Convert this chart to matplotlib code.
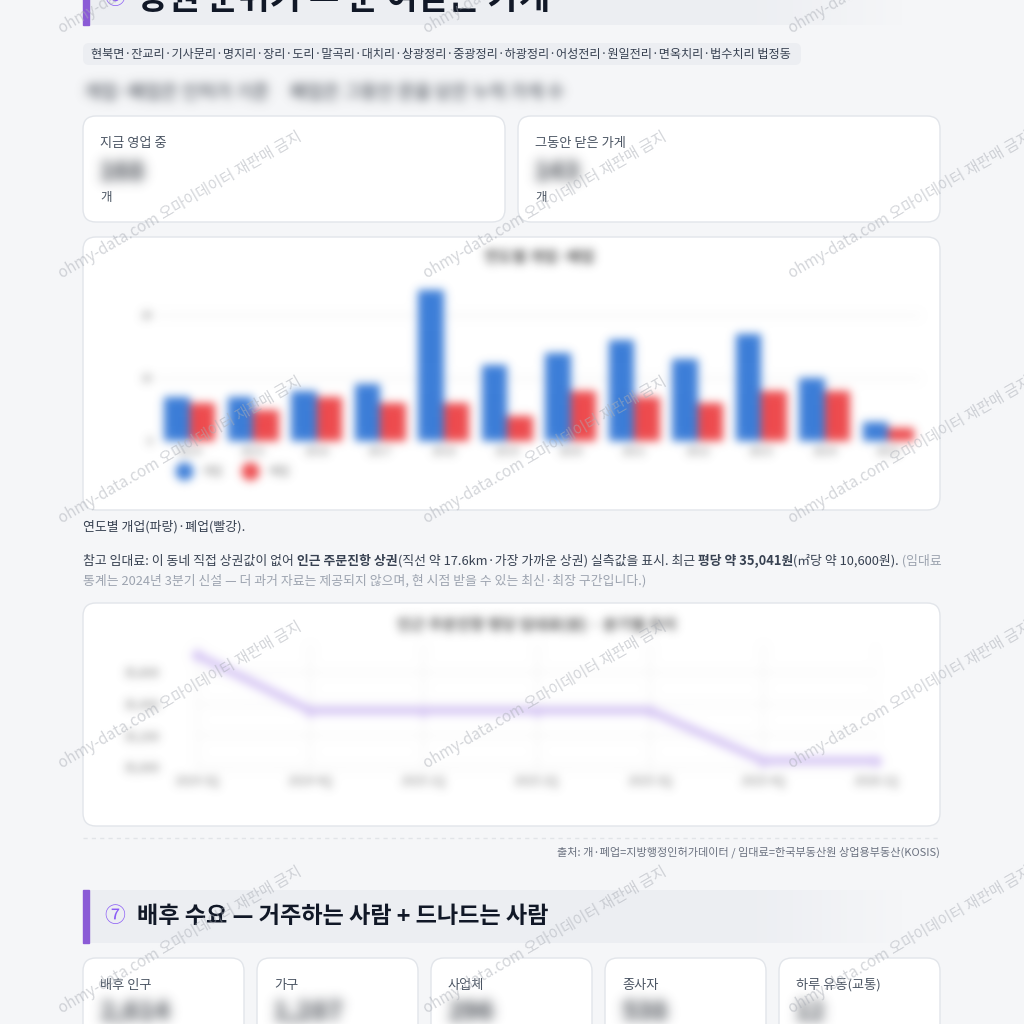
import numpy as np
import matplotlib
matplotlib.use("Agg")
import matplotlib.pyplot as plt
from matplotlib.patches import FancyBboxPatch, Rectangle
from matplotlib.lines import Line2D
from matplotlib.colors import to_rgb

plt.rcParams['font.family'] = ['Noto Sans CJK KR', 'DejaVu Sans']

# ---- data ----
years = ['2014', '2015', '2016', '2017', '2018', '2019',
         '2020', '2021', '2022', '2023', '2024', '2025']
opened = [7, 7, 8, 9, 24, 12, 14, 16, 13, 17, 10, 3]
closed = [6, 5, 7, 6, 6, 4, 8, 7, 6, 8, 8, 2]

quarters = ['2024 3Q', '2024 4Q', '2025 1Q', '2025 2Q', '2025 3Q', '2025 4Q', '2026 1Q']
rent = [35706, 35356, 35356, 35356, 35356, 35041, 35041]
rent_ticks = [35000, 35200, 35400, 35600]

dongs = ['현북면', '잔교리', '기사문리', '명지리', '장리', '도리', '말곡리', '대치리',
         '상광정리', '중광정리', '하광정리', '어성전리', '원일전리', '면옥치리', '법수치리']
store_labels = ['지금 영업 중', '그동안 닫은 가게']
store_counts = ['168', '143']
demand_labels = ['배후 인구', '가구', '사업체', '종사자', '하루 유동(교통)']
demand_values = ['2,614', '1,287', '296', '538', '12']

BG = '#f5f6f8'
BLUE = '#3b7dd8'
RED = '#ee4a4d'
PURPLE = '#8b5bd6'

W = H = 1024
fig = plt.figure(figsize=(10.24, 10.24), dpi=100)
fig.patch.set_facecolor(BG)
r = fig.canvas.get_renderer()

page = fig.add_axes([0, 0, 1, 1])
page.set_xlim(0, W)
page.set_ylim(H, 0)
page.set_autoscale_on(False)
page.axis('off')


def rect(x, y, w, h):
    return [x / W, 1 - (y + h) / H, w / W, h / H]


def blur(sigma):
    def filt(im, dpi):
        pad = int(3 * sigma) + 1
        a = np.pad(im, ((pad, pad), (pad, pad), (0, 0)))
        a[..., :3] *= a[..., 3:]
        k = np.exp(-0.5 * (np.arange(-pad, pad + 1) / sigma) ** 2)
        k /= k.sum()
        for axis in (0, 1):
            a = sum(w * np.roll(a, s, axis=axis) for s, w in zip(range(-pad, pad + 1), k))
        alpha = a[..., 3:]
        a[..., :3] = np.where(alpha > 1e-3, a[..., :3] / np.maximum(alpha, 1e-3), 0)
        return np.clip(a, 0, 1), -pad, -pad
    return filt


def card(x, y, w, h):
    page.add_patch(FancyBboxPatch((x, y), w, h, boxstyle='round,pad=0,rounding_size=13',
                                  fc='white', ec='#e2e5ea', lw=1, zorder=1))


def fit(t, width):
    w = t.get_window_extent(r).width
    t.set_fontsize(t.get_fontsize() * width / w)


def runs(x, y, parts, size):
    for s, weight, color in parts:
        t = page.text(x, y, s, fontsize=size, fontweight=weight, color=color, va='center', zorder=3)
        x += t.get_window_extent(r).width
    return x


def header(y0, y1, num, title):
    grad = np.ones((1, 256, 4))
    grad[..., :3] = to_rgb('#eceef2')
    grad[..., 3] = np.clip((1 - np.linspace(0, 1, 256)) / 0.2, 0, 1)
    page.imshow(grad, extent=[83, 905, y1, y0], aspect='auto', zorder=1)
    page.add_patch(Rectangle((83, y0), 6, y1 - y0, color=PURPLE, zorder=2))
    yc = (y0 + y1) / 2
    page.text(104, yc, num, fontsize=15, color='#8b5cf6', va='center', zorder=3)
    t = page.text(137, yc, title, fontsize=17, fontweight='bold', color='#111827',
                  va='center', zorder=3)
    fit(t, 413)


# ---- section 6 header (cut at top) ----
header(-28, 25, '⑥', '상권 분위기 — 문 여닫는 가게')

# chip with dong names
page.add_patch(FancyBboxPatch((83, 43), 718, 22, boxstyle='round,pad=0,rounding_size=6',
                              fc='#eceef2', ec='none', zorder=1))
chip = page.text(91, 54.5, '·'.join(dongs) + ' 법정동', fontsize=9, color='#374151',
                 va='center', zorder=3)
fit(chip, 702)

# blurred subtitle line
sub = page.text(84, 93, '개업·폐업은 인허가 기준     폐업은 그동안 문을 닫은 누적 가게 수',
                fontsize=12, fontweight='bold', color='#6b7078', va='center', zorder=3)
fit(sub, 482)
sub.set_agg_filter(blur(5))

# two stat cards
for i, (lab, cnt) in enumerate(zip(store_labels, store_counts)):
    x0 = 83 + i * 435
    card(x0, 116, 422, 106)
    page.text(x0 + 17, 143, lab, fontsize=9.5, color='#4b5563', va='center', zorder=3)
    v = page.text(x0 + 16, 172, cnt, fontsize=19, fontweight='bold', color='#3a3f47',
                  va='center', zorder=3)
    v.set_agg_filter(blur(6))
    page.text(x0 + 17, 198, '개', fontsize=9, color='#4b5563', va='center', zorder=3)

# ---- bar chart card ----
card(83, 237, 857, 273)
top = 441 - 24.5 * 6.3
ax1 = fig.add_axes(rect(158, top, 762, 441 - top))
ax1.set_facecolor('none')
x = np.arange(len(years))
ax1.bar(x - 0.2, opened, 0.4, color=BLUE, zorder=2)
ax1.bar(x + 0.2, closed, 0.4, color=RED, zorder=2)
ax1.set_xlim(-0.5, len(years) - 0.5)
ax1.set_ylim(0, 24.5)
ax1.set_yticks([0, 10, 20])
ax1.set_xticks(x, years)
ax1.grid(axis='y', color='#ececec', lw=1, zorder=0)
for s in ax1.spines.values():
    s.set_visible(False)
ax1.tick_params(length=0, labelsize=8, labelcolor='#777777', pad=4)
ax1.text(0.5, (441 - 257) / (441 - top), '연도별 개업·폐업', transform=ax1.transAxes,
         ha='center', va='center', fontsize=11, fontweight='bold', color='#555555')
ax1.legend(handles=[Line2D([], [], marker='o', ls='', color=BLUE, markersize=12, label='개업'),
                    Line2D([], [], marker='o', ls='', color=RED, markersize=12, label='폐업')],
           loc='center left', bbox_to_anchor=(172, 472), bbox_transform=page.transData,
           ncol=2, frameon=False, fontsize=8.5, labelcolor='#777777', handletextpad=1.0,
           columnspacing=1.8, borderpad=0, handlelength=1)
ax1.set_agg_filter(blur(4.5))

page.text(83, 527, '연도별 개업(파랑)·폐업(빨강).', fontsize=9.3, color='#374151',
          va='center', zorder=3)

# ---- rent paragraph ----
DARK = '#374151'
LIGHT = '#9ca3af'
line1 = [('참고 임대료: 이 동네 직접 상권값이 없어', 'normal', DARK),
         (' 인근 주문진항 상권', 'bold', DARK),
         ('(직선 약 17.6km·가장 가까운 상권) 실측값을 표시. 최근', 'normal', DARK),
         (' 평당 약 35,041원', 'bold', DARK),
         ('(㎡당 약 10,600원).', 'normal', DARK),
         (' (임대료', 'normal', LIGHT)]
probe = page.text(0, 0, ''.join(p[0] for p in line1), fontsize=9.3)
size = 9.3 * 854 / probe.get_window_extent(r).width
probe.remove()
runs(83, 561, line1, size)
runs(83, 581, [('통계는 2024년 3분기 신설 — 더 과거 자료는 제공되지 않으며, 현 시점 받을 수 있는 '
                '최신·최장 구간입니다.)', 'normal', LIGHT)], size)

# ---- rent line chart card ----
card(83, 603, 857, 223)
px200 = 31.7
ax2 = fig.add_axes(rect(197, 645, 679, 125))
ax2.set_facecolor('none')
ax2.plot(range(len(quarters)), rent, color='#d6c6f5', lw=6, marker='o', ms=7,
         solid_joinstyle='round', clip_on=False, zorder=3)
ax2.set_xlim(0, len(quarters) - 1)
ax2.set_ylim(35000 - 3 * 200 / px200, 35000 + 122 * 200 / px200)
ax2.set_yticks(rent_ticks, [f'{v:,}' for v in rent_ticks])
ax2.set_xticks(range(len(quarters)), quarters)
ax2.grid(color='#efefef', lw=1, zorder=0)
for s in ax2.spines.values():
    s.set_visible(False)
ax2.tick_params(length=0, labelsize=8.5, labelcolor='#777777')
ax2.tick_params(axis='y', pad=27)
ax2.tick_params(axis='x', pad=3)
ax2.text(0.5, (770 - 625) / 125, '인근 주문진항 평당 임대료(원) · 분기별 추이', transform=ax2.transAxes,
         ha='center', va='center', fontsize=11, fontweight='bold', color='#555555')
ax2.set_agg_filter(blur(4.5))

# separator and source
page.plot([83, 940], [838, 838], color='#e1e4e8', lw=1, ls=(0, (3, 3)), zorder=2)
page.text(940, 852, '출처: 개·폐업=지방행정인허가데이터 / 임대료=한국부동산원 상업용부동산(KOSIS)',
          fontsize=8, color='#6b7280', ha='right', va='center', zorder=3)

# ---- section 7 ----
header(890, 943, '⑦', '배후 수요 — 거주하는 사람 + 드나드는 사람')
for i, (lab, val) in enumerate(zip(demand_labels, demand_values)):
    x0 = 83 + i * 174
    card(x0, 958, 161, 100)
    page.text(x0 + 17, 985, lab, fontsize=9.5, color='#4b5563', va='center', zorder=3)
    v = page.text(x0 + 16, 1012, val, fontsize=19, fontweight='bold', color='#3a3f47',
                  va='center', zorder=3)
    v.set_agg_filter(blur(6))

# ---- watermark ----
wm = fig.add_axes([0, 0, 1, 1])
wm.set_xlim(0, W)
wm.set_ylim(H, 0)
wm.axis('off')
for cy in [-40, 205, 450, 695, 940]:
    for cx in [180, 545, 910]:
        wm.text(cx, cy, 'ohmy-data.com 오마이데이터 재판매 금지', rotation=30,
                rotation_mode='anchor', ha='center', va='center', fontsize=11,
                color='#a9adb5', alpha=0.5)

fig.savefig('out.png', dpi=100, facecolor=BG)
